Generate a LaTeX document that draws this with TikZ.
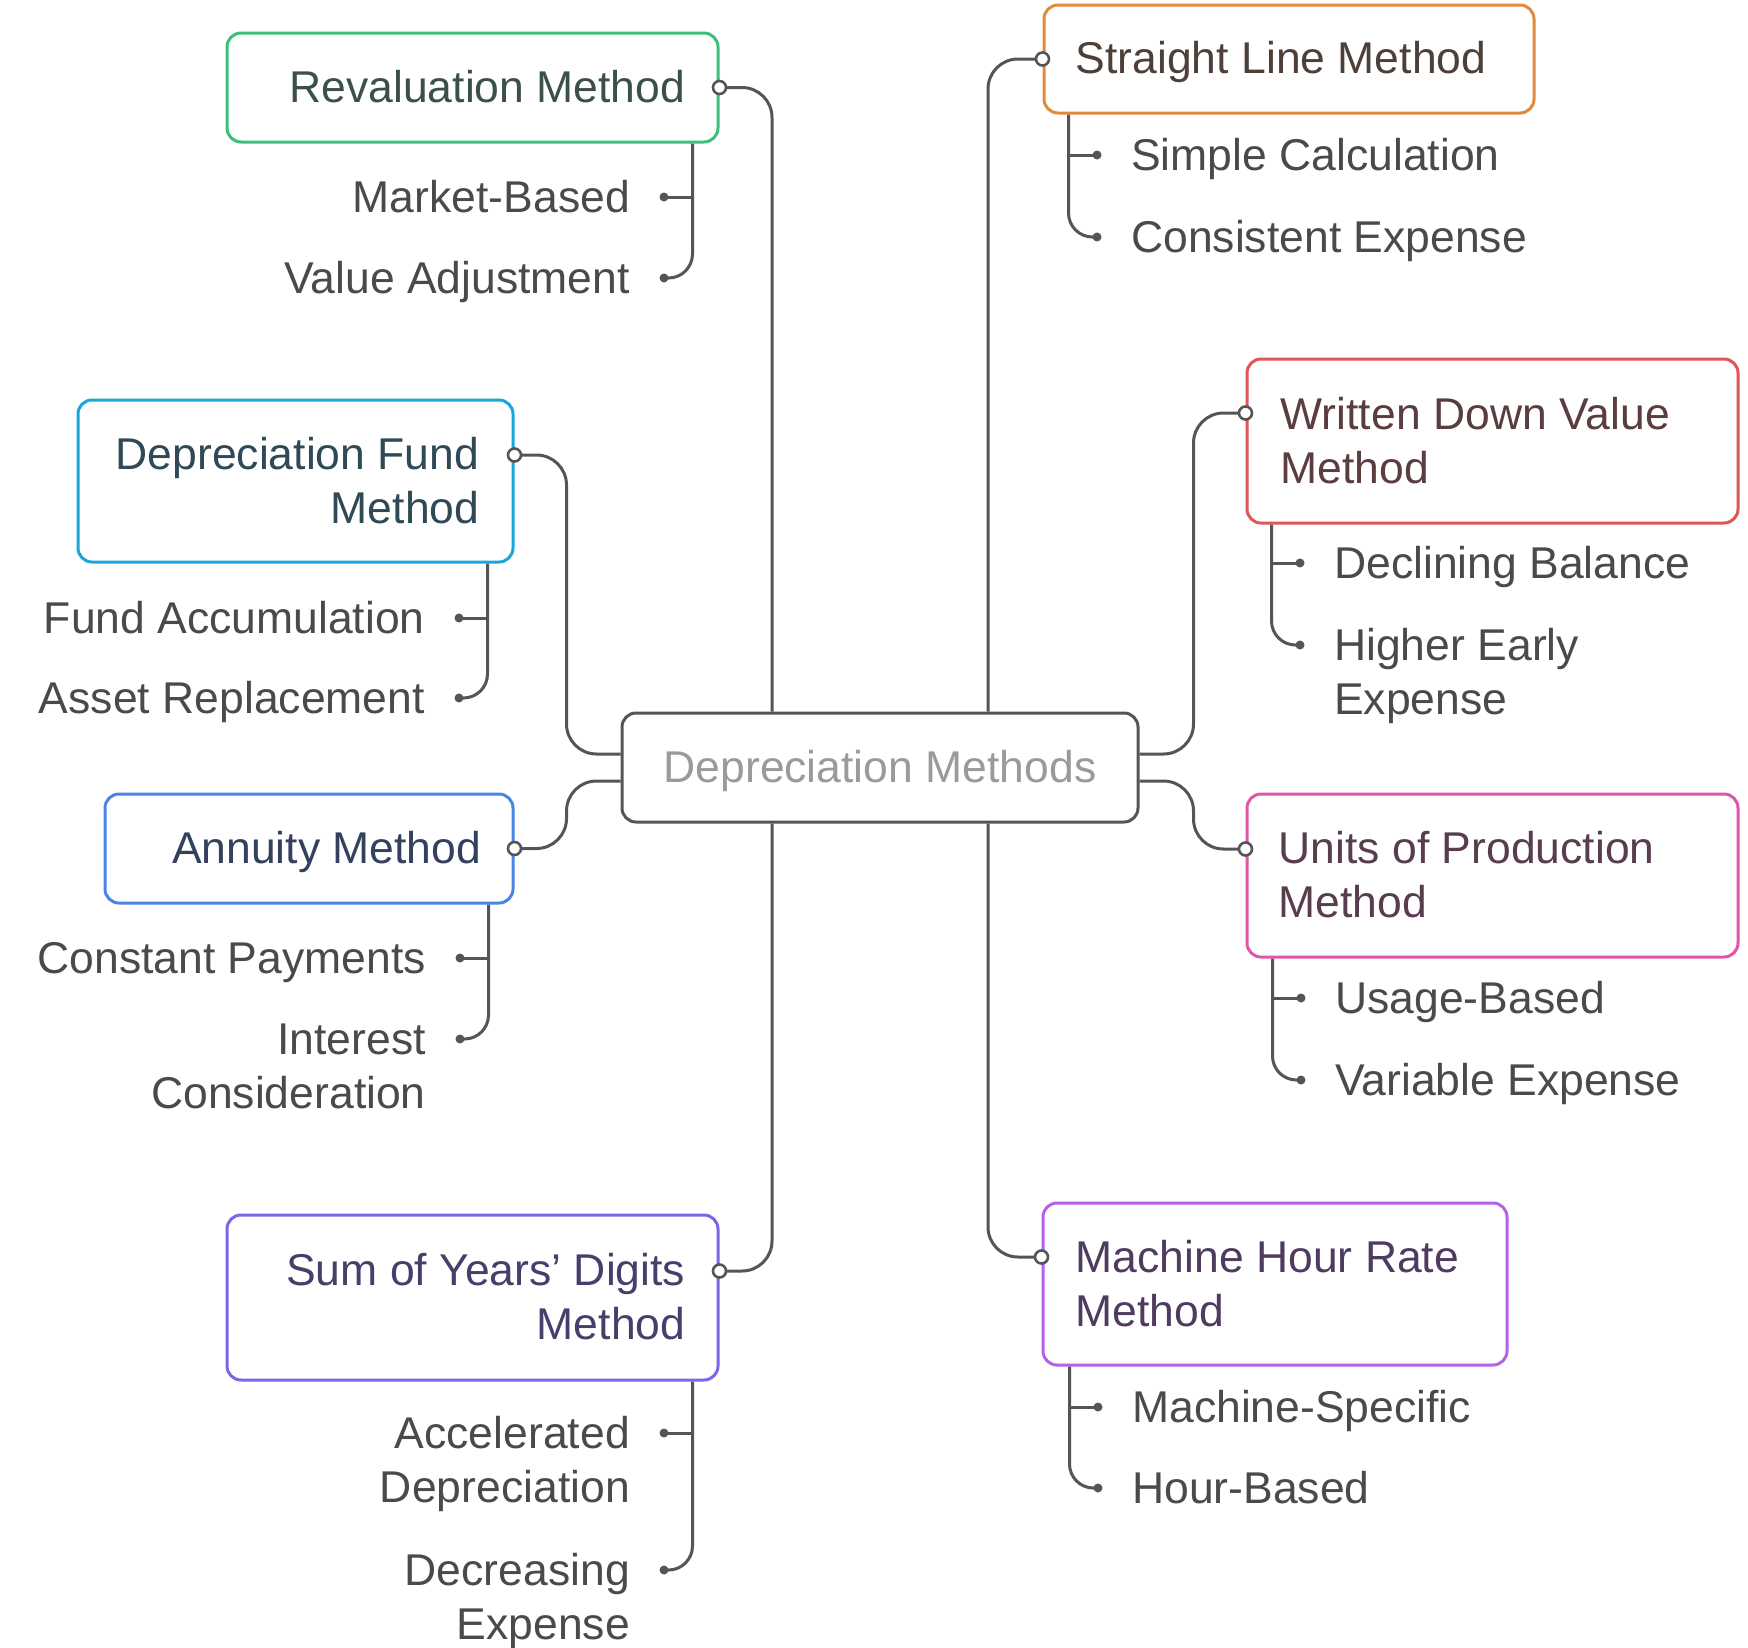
\documentclass[tikz,border=0pt]{standalone}
\usepackage{fontspec}
\setmainfont{Liberation Sans}
\usetikzlibrary{calc}
\definecolor{cline}{HTML}{555555}
\definecolor{ctext}{HTML}{4A4A4A}
\definecolor{cgreen}{HTML}{3DBF7A}
\definecolor{tgreen}{HTML}{3B5047}
\definecolor{corange}{HTML}{E08A3C}
\definecolor{torange}{HTML}{4E4038}
\definecolor{cred}{HTML}{E05656}
\definecolor{tred}{HTML}{5A3D3E}
\definecolor{ccyan}{HTML}{1BA6D9}
\definecolor{tcyan}{HTML}{2F4956}
\definecolor{cblue}{HTML}{4A85E6}
\definecolor{tblue}{HTML}{33405E}
\definecolor{cpurple}{HTML}{7F64E8}
\definecolor{tpurple}{HTML}{45406B}
\definecolor{cpink}{HTML}{E055A8}
\definecolor{tpink}{HTML}{583D4F}
\definecolor{cviolet}{HTML}{B562E8}
\definecolor{tviolet}{HTML}{4F3B60}
\definecolor{tcenter}{HTML}{9A9A9A}
\tikzset{
  box/.style={draw=#1, line width=3pt, rounded corners=14pt, inner sep=0pt, fill=white},
  conn/.style={draw=cline, line width=3pt, rounded corners=30pt},
  branch/.style={draw=cline, line width=3pt, rounded corners=24pt},
  port/.style={circle, draw=cline, line width=2.6pt, fill=white, minimum size=13pt, inner sep=0pt},
  dot/.style={circle, fill=cline, minimum size=9pt, inner sep=0pt},
  txt/.style={font=\fontsize{44.5}{54.5}\selectfont, inner sep=0pt},
  ltxt/.style={txt, anchor=base east, align=right},
  rtxt/.style={txt, anchor=base west, align=left},
  twoline/.style={yshift=-54.5pt},
}
\begin{document}
\begin{tikzpicture}[x=1pt,y=-1pt]
\useasboundingbox[fill=white] (0,0) rectangle (1748,1647);
% boxes
\node[box=cline, minimum width=516pt, minimum height=109pt] (dm) at (880,767.5) {};
\node[box=cgreen, minimum width=491pt, minimum height=109pt] (reval) at (472.5,87.5) {};
\node[box=corange, minimum width=490pt, minimum height=108pt] (sl) at (1289,59) {};
\node[box=ccyan, minimum width=435pt, minimum height=162pt] (fund) at (295.5,481) {};
\node[box=cblue, minimum width=408pt, minimum height=109pt] (ann) at (309,848.5) {};
\node[box=cpurple, minimum width=491pt, minimum height=165pt] (syd) at (472.5,1297.5) {};
\node[box=cred, minimum width=491pt, minimum height=164pt] (wdv) at (1492.5,441) {};
\node[box=cpink, minimum width=491pt, minimum height=163pt] (uop) at (1492.5,875.5) {};
\node[box=cviolet, minimum width=464pt, minimum height=162pt] (mhr) at (1275,1284) {};
% ports
\coordinate (reval-p) at (reval.east);
\coordinate (sl-p) at (sl.west);
\coordinate (fund-p) at ([yshift=26pt]fund.east);
\coordinate (ann-p) at (ann.east);
\coordinate (syd-p) at ([yshift=26.5pt]syd.east);
\coordinate (wdv-p) at ([yshift=28pt]wdv.west);
\coordinate (uop-p) at ([yshift=26.5pt]uop.west);
\coordinate (mhr-p) at ([yshift=27pt]mhr.west);
% box texts
\node[txt, anchor=base, text=tcenter] (dm-t) at ([yshift=-14.5pt]dm.center) {Depreciation Methods};
\node[ltxt, text=tgreen] (reval-t) at ([xshift=-34pt,yshift=-15pt]reval-p) {Revaluation Method};
\node[rtxt, text=torange] (sl-t) at ([xshift=33pt,yshift=-14pt]sl-p) {Straight Line Method};
\node[ltxt, twoline, text=tcyan] (fund-t) at ([xshift=-35pt,yshift=-14pt]fund-p) {Depreciation Fund\\Method};
\node[ltxt, text=tblue] (ann-t) at ([xshift=-33pt,yshift=-15pt]ann-p) {Annuity Method};
\node[ltxt, twoline, text=tpurple] (syd-t) at ([xshift=-34pt,yshift=-14pt]syd-p) {Sum of Years’ Digits\\Method};
\node[rtxt, twoline, text=tred] (wdv-t) at ([xshift=35pt,yshift=-16pt]wdv-p) {Written Down Value\\Method};
\node[rtxt, twoline, text=tpink] (uop-t) at ([xshift=33pt,yshift=-14pt]uop-p) {Units of Production\\Method};
\node[rtxt, twoline, text=tviolet] (mhr-t) at ([xshift=34pt,yshift=-15pt]mhr-p) {Machine Hour Rate\\Method};
% branch starts
\coordinate (reval-b) at ([xshift=-27pt]reval.south east);
\coordinate (sl-b) at ([xshift=26pt]sl.south west);
\coordinate (fund-b) at ([xshift=-27pt]fund.south east);
\coordinate (ann-b) at ([xshift=-26pt]ann.south east);
\coordinate (syd-b) at ([xshift=-27pt]syd.south east);
\coordinate (wdv-b) at ([xshift=26pt]wdv.south west);
\coordinate (uop-b) at ([xshift=27pt]uop.south west);
\coordinate (mhr-b) at ([xshift=28pt]mhr.south west);
% dots
\node[dot] (r1) at (664,197) {};
\node[dot] (r2) at (664,278) {};
\node[dot] (s1) at (1097,155) {};
\node[dot] (s2) at (1097,237) {};
\node[dot] (f1) at (459,618) {};
\node[dot] (f2) at (459,698) {};
\node[dot] (a1) at (460,958) {};
\node[dot] (a2) at (460,1039) {};
\node[dot] (y1) at (664,1433) {};
\node[dot] (y2) at (664,1570) {};
\node[dot] (w1) at (1300,563) {};
\node[dot] (w2) at (1300,645) {};
\node[dot] (u1) at (1301,998) {};
\node[dot] (u2) at (1301,1080) {};
\node[dot] (m1) at (1098,1407) {};
\node[dot] (m2) at (1098,1488) {};
% child texts
\node[ltxt, text=ctext] (r1-t) at ([xshift=-34pt,yshift=-15pt]r1) {Market-Based};
\node[ltxt, text=ctext] (r2-t) at ([xshift=-34pt,yshift=-15pt]r2) {Value Adjustment};
\node[rtxt, text=ctext] (s1-t) at ([xshift=34pt,yshift=-15pt]s1) {Simple Calculation};
\node[rtxt, text=ctext] (s2-t) at ([xshift=34pt,yshift=-15pt]s2) {Consistent Expense};
\node[ltxt, text=ctext] (f1-t) at ([xshift=-34pt,yshift=-15pt]f1) {Fund Accumulation};
\node[ltxt, text=ctext] (f2-t) at ([xshift=-34pt,yshift=-15pt]f2) {Asset Replacement};
\node[ltxt, text=ctext] (a1-t) at ([xshift=-34pt,yshift=-15pt]a1) {Constant Payments};
\node[ltxt, twoline, text=ctext] (a2-t) at ([xshift=-34pt,yshift=-15pt]a2) {Interest\\Consideration};
\node[ltxt, twoline, text=ctext] (y1-t) at ([xshift=-34pt,yshift=-15pt]y1) {Accelerated\\Depreciation};
\node[ltxt, twoline, text=ctext] (y2-t) at ([xshift=-34pt,yshift=-15pt]y2) {Decreasing\\Expense};
\node[rtxt, text=ctext] (w1-t) at ([xshift=34pt,yshift=-15pt]w1) {Declining Balance};
\node[rtxt, twoline, text=ctext] (w2-t) at ([xshift=34pt,yshift=-15pt]w2) {Higher Early\\Expense};
\node[rtxt, text=ctext] (u1-t) at ([xshift=34pt,yshift=-15pt]u1) {Usage-Based};
\node[rtxt, text=ctext] (u2-t) at ([xshift=34pt,yshift=-15pt]u2) {Variable Expense};
\node[rtxt, text=ctext] (m1-t) at ([xshift=34pt,yshift=-15pt]m1) {Machine-Specific};
\node[rtxt, text=ctext] (m2-t) at ([xshift=34pt,yshift=-15pt]m2) {Hour-Based};
% main connectors
\draw[conn] ([xshift=-108pt]dm.north) |- (reval-p);
\draw[conn] ([xshift=108pt]dm.north) |- (sl-p);
\draw[conn] ([yshift=13.5pt]dm.west) -- ++(-54,0) |- (fund-p);
\draw[conn] ([yshift=-13.5pt]dm.west) -- ++(-54,0) |- (ann-p);
\draw[conn] ([xshift=-108pt]dm.south) |- (syd-p);
\draw[conn] ([xshift=108pt]dm.south) |- (mhr-p);
\draw[conn] ([yshift=13.5pt]dm.east) -- ++(54,0) |- (wdv-p);
\draw[conn] ([yshift=-13.5pt]dm.east) -- ++(54,0) |- (uop-p);
% child branches
\foreach \b/\p/\q in {reval-b/r1/r2, sl-b/s1/s2, fund-b/f1/f2, ann-b/a1/a2, syd-b/y1/y2, wdv-b/w1/w2, uop-b/u1/u2, mhr-b/m1/m2}{
  \draw[branch] (\b) |- (\q.center);
  \draw[branch] (\p.center) -- (\p.center -| \b);
}
% port circles
\foreach \p in {reval-p, sl-p, fund-p, ann-p, syd-p, wdv-p, uop-p, mhr-p}{
  \node[port] at (\p) {};
}
\end{tikzpicture}
\end{document}
